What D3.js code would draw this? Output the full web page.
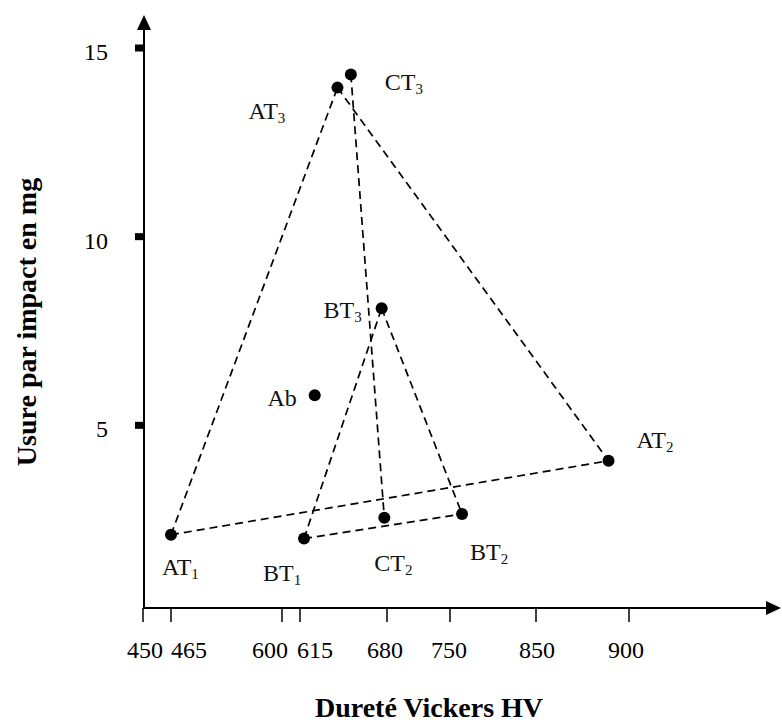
<!DOCTYPE html>
<html>
<head>
<meta charset="utf-8">
<script src="https://cdn.jsdelivr.net/npm/d3@7/dist/d3.min.js"></script>
<style>
  html, body { margin: 0; padding: 0; background: #fff; }
  svg { display: block; font-family: "Liberation Serif", "Times New Roman", serif; }
</style>
</head>
<body>
<svg id="chart" width="782" height="726"></svg>
<script>
// Vickers hardness (HV) against wear per impact (mg)
const pointNames = ["AT", "AT", "AT", "BT", "BT", "BT", "CT", "CT", "Ab"];
const pointSubs  = ["1", "2", "3", "1", "2", "3", "2", "3", ""];
const hardness   = [465, 889, 643, 618, 764, 676, 678, 653, 626];
const wear       = [2.1, 4.06, 13.95, 2.0, 2.65, 8.1, 2.55, 14.3, 5.8];

// Dashed links between samples (indices into the point arrays)
const linkFrom = [0, 0, 2, 3, 3, 5, 7];
const linkTo   = [1, 2, 1, 4, 5, 4, 6];

// Axis ticks
const xTicks = [450, 465, 600, 615, 680, 750, 850, 900];
const yTicks = [5, 10, 15];

// Layout: the hardness axis is drawn piecewise, one stop per tick
const xTickPx = [143, 171, 282, 300, 387, 450, 536, 629];
const xLabelDx = [2, 18, -12, 15, -2, -1, 1, -3];
// label offsets from each point [dx, dy, anchor]
const labelPos = [
  [-9, 40, "start"], [28, -13, "start"], [-89, 31, "start"],
  [-41, 42, "start"], [8, 46, "start"], [-20, 10, "end"],
  [-10, 53, "start"], [34, 16, "start"], [-18, 11, "end"]
];

const svg = d3.select("#chart");

const x = d3.scaleLinear().domain(xTicks).range(xTickPx);
const y = d3.scaleLinear().domain([0, 15]).range([614, 48]);

const axisX = 144, axisY = 608;

// Axis lines with arrow heads
svg.append("line").attr("x1", axisX).attr("x2", axisX).attr("y1", axisY + 1).attr("y2", 24)
  .attr("stroke", "#000").attr("stroke-width", 2);
svg.append("path").attr("d", `M${axisX},15 L${axisX - 7},30 L${axisX + 7},30 Z`).attr("fill", "#000");
svg.append("line").attr("x1", axisX - 1).attr("x2", 772).attr("y1", axisY).attr("y2", axisY)
  .attr("stroke", "#000").attr("stroke-width", 2);
svg.append("path").attr("d", `M781,${axisY} L766,${axisY - 7} L766,${axisY + 7} Z`).attr("fill", "#000");

// X ticks and labels
const xt = svg.append("g").selectAll("g").data(xTicks).join("g");
xt.append("line")
  .attr("x1", d => x(d)).attr("x2", d => x(d))
  .attr("y1", axisY).attr("y2", axisY + 14)
  .attr("stroke", "#000").attr("stroke-width", 1.5);
xt.append("text")
  .attr("x", (d, i) => x(d) + xLabelDx[i]).attr("y", 658)
  .attr("text-anchor", "middle").attr("font-size", 24)
  .text(d => d);

// Y ticks (small filled blocks) and labels
const yt = svg.append("g").selectAll("g").data(yTicks).join("g");
yt.append("rect")
  .attr("x", axisX - 9).attr("y", d => y(d) - 3.5)
  .attr("width", 9).attr("height", 7).attr("fill", "#000");
yt.append("text")
  .attr("x", 108).attr("y", d => y(d) + 12)
  .attr("text-anchor", "end").attr("font-size", 24)
  .text(d => d);

// Dashed links
svg.append("g").selectAll("line").data(linkFrom).join("line")
  .attr("x1", d => x(hardness[d])).attr("y1", d => y(wear[d]))
  .attr("x2", (d, i) => x(hardness[linkTo[i]])).attr("y2", (d, i) => y(wear[linkTo[i]]))
  .attr("stroke", "#000").attr("stroke-width", 1.7)
  .attr("stroke-dasharray", "8,5");

// Points
svg.append("g").selectAll("circle").data(hardness).join("circle")
  .attr("cx", d => x(d)).attr("cy", (d, i) => y(wear[i]))
  .attr("r", 6).attr("fill", "#000");

// Point labels with subscripts
const lbl = svg.append("g").selectAll("text").data(pointNames).join("text")
  .attr("x", (d, i) => x(hardness[i]) + labelPos[i][0])
  .attr("y", (d, i) => y(wear[i]) + labelPos[i][1])
  .attr("text-anchor", (d, i) => labelPos[i][2])
  .attr("font-size", 24)
  .attr("fill", "#111");
lbl.append("tspan").text(d => d);
lbl.append("tspan")
  .attr("font-size", 15).attr("dy", 4)
  .text((d, i) => pointSubs[i]);

// Axis titles
svg.append("text")
  .attr("x", 429).attr("y", 717)
  .attr("text-anchor", "middle").attr("font-size", 28).attr("font-weight", "bold")
  .text("Dureté Vickers HV");
svg.append("text")
  .attr("transform", "translate(36,322) rotate(-90)")
  .attr("text-anchor", "middle").attr("font-size", 28).attr("font-weight", "bold")
  .text("Usure par impact en mg");
</script>
</body>
</html>
